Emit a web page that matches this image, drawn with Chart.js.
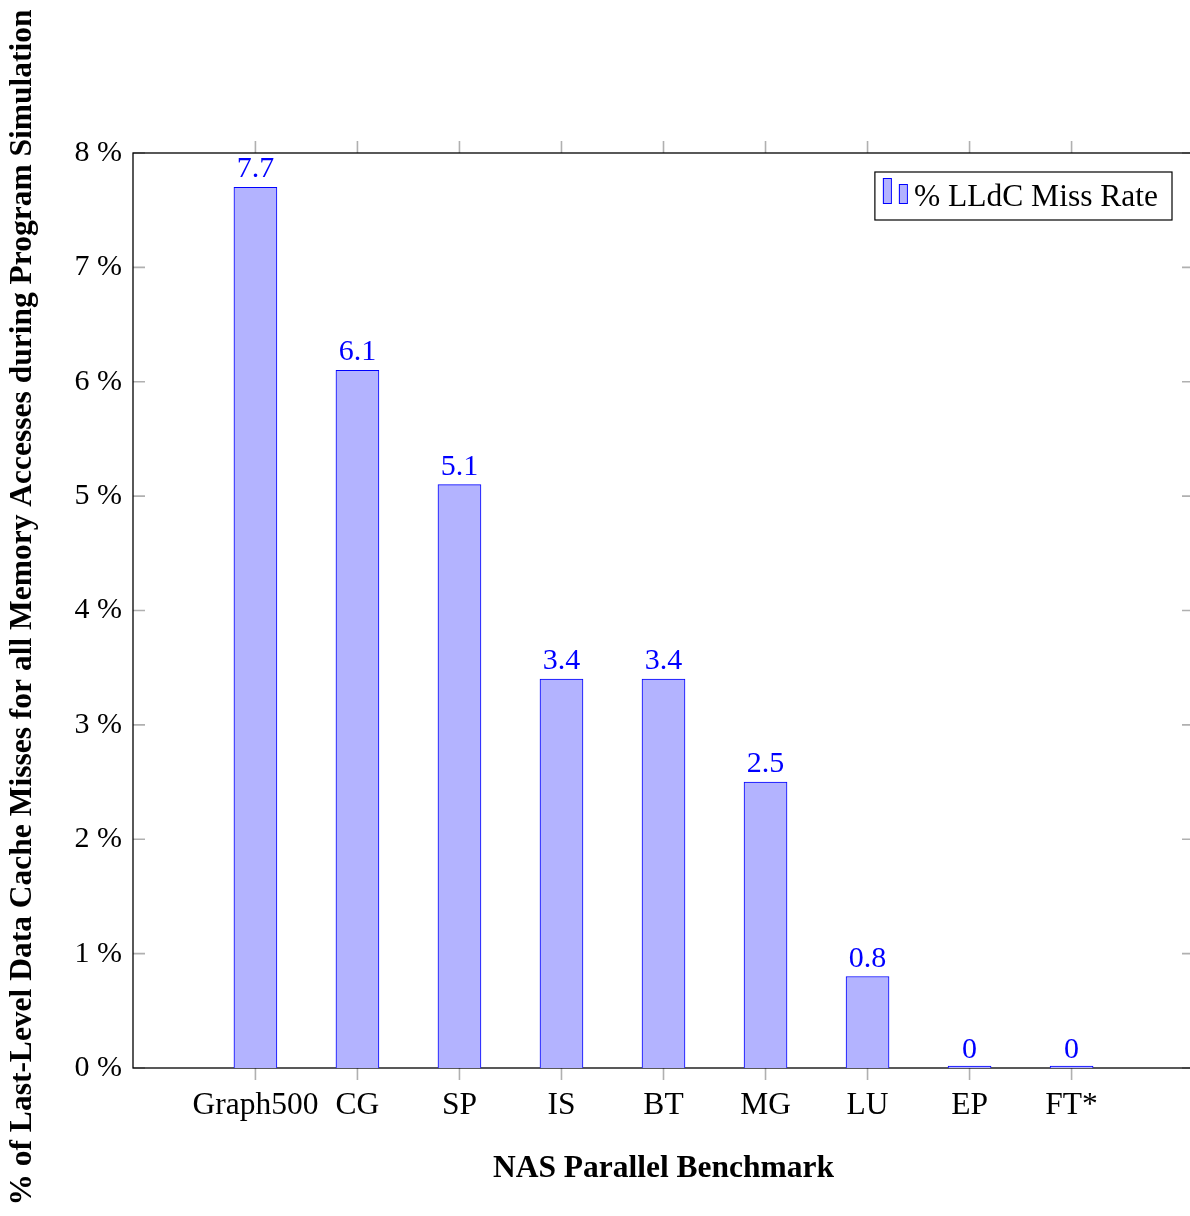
<!DOCTYPE html>
<html>
<head>
<meta charset="utf-8">
<script src="https://cdn.jsdelivr.net/npm/chart.js@4.4.0/dist/chart.umd.min.js"></script>
<style>
  html, body { margin: 0; padding: 0; background: #fff; overflow: hidden; }
  #wrap { width: 1200px; height: 1216px; }
</style>
</head>
<body>
<div id="wrap"><canvas id="missChart" width="1200" height="1216"></canvas></div>
<script>
// Benchmarks along the x axis
const benchmarks = ['Graph500', 'CG', 'SP', 'IS', 'BT', 'MG', 'LU', 'EP', 'FT*'];
// % LLdC miss rate for each benchmark
const missRates = [7.7, 6.1, 5.1, 3.4, 3.4, 2.5, 0.8, 0, 0];
// y axis ticks (percent)
const yTicks = [0, 1, 2, 3, 4, 5, 6, 7, 8];

const seriesLabel = '% LLdC Miss Rate';
const yTitle = '% of Last-Level Data Cache Misses for all Memory Accesses during Program Simulation';
const xTitle = 'NAS Parallel Benchmark';

const serif = '"Liberation Serif", "Times New Roman", serif';

/**
 * Axis frame plus the small gray tick marks (pgfplots look)
 */
const framePlugin = {
  id: 'frame',
  beforeDatasetsDraw(chart) {
    const { ctx, chartArea: a, scales: { x, y } } = chart;
    ctx.save();
    ctx.strokeStyle = '#b0b0b0';
    ctx.lineWidth = 1.6;
    ctx.beginPath();
    x.ticks.forEach(t => {
      const px = x.getPixelForValue(t.value);
      ctx.moveTo(px, a.bottom); ctx.lineTo(px, a.bottom + 12);
      ctx.moveTo(px, a.top); ctx.lineTo(px, a.top - 12);
    });
    y.ticks.forEach(t => {
      const py = y.getPixelForValue(t.value);
      ctx.moveTo(a.left, py); ctx.lineTo(a.left + 12, py);
      ctx.moveTo(a.right, py); ctx.lineTo(a.right - 12, py);
    });
    ctx.stroke();
    ctx.strokeStyle = '#000';
    ctx.lineWidth = 1.3;
    ctx.strokeRect(a.left, a.top, a.right - a.left, a.bottom - a.top);
    ctx.restore();
  }
};

/**
 * Value labels above each bar
 */
const valueLabels = {
  id: 'valueLabels',
  afterDatasetsDraw(chart) {
    const { ctx, scales: { y } } = chart;
    const meta = chart.getDatasetMeta(0);
    ctx.save();
    ctx.fillStyle = '#0000ff';
    ctx.font = '30px ' + serif;
    ctx.textAlign = 'center';
    ctx.textBaseline = 'alphabetic';
    meta.data.forEach((bar, i) => {
      ctx.fillText(String(missRates[i]), bar.x, y.getPixelForValue(missRates[i]) - 10);
    });
    ctx.restore();
  }
};

/**
 * Boxed legend in the upper right corner
 */
const legendBox = {
  id: 'legendBox',
  afterDraw(chart) {
    const { ctx, chartArea: a } = chart;
    const ds = chart.data.datasets[0];
    ctx.save();
    ctx.font = '31.5px ' + serif;
    const textW = ctx.measureText(ds.label).width;
    const w = 39 + textW + 14;
    const h = 48;
    const left = a.right - 22 - w;
    const top = a.top + 19;

    ctx.fillStyle = '#fff';
    ctx.fillRect(left, top, w, h);
    ctx.strokeStyle = '#000';
    ctx.lineWidth = 1.2;
    ctx.strokeRect(left, top, w, h);

    // two little bars as the legend image
    ctx.fillStyle = ds.backgroundColor;
    ctx.strokeStyle = ds.borderColor;
    ctx.lineWidth = 1;
    ctx.fillRect(left + 8, top + 6, 8, 25);
    ctx.strokeRect(left + 8.5, top + 6.5, 8, 25);
    ctx.fillRect(left + 24, top + 12, 8, 19);
    ctx.strokeRect(left + 24.5, top + 12.5, 8, 19);

    ctx.fillStyle = '#000';
    ctx.textAlign = 'left';
    ctx.textBaseline = 'alphabetic';
    ctx.fillText(ds.label, left + 39, top + 34);
    ctx.restore();
  }
};

/**
 * Rotated y axis title (too long for the axis' own title box)
 */
const yTitlePlugin = {
  id: 'yTitle',
  afterDraw(chart) {
    const { ctx, chartArea: a } = chart;
    ctx.save();
    ctx.translate(23, (a.top + a.bottom) / 2 - 3);
    ctx.rotate(-Math.PI / 2);
    ctx.font = 'bold 31.5px ' + serif;
    ctx.fillStyle = '#000';
    ctx.textAlign = 'center';
    ctx.textBaseline = 'middle';
    ctx.fillText(yTitle, 0, 0);
    ctx.restore();
  }
};

const canvas = document.getElementById('missChart');

new Chart(canvas, {
  type: 'bar',
  data: {
    datasets: [{
      label: seriesLabel,
      data: missRates.map((v, i) => ({ x: i, y: v })),
      backgroundColor: '#b3b3ff',
      borderColor: '#0000ff',
      borderWidth: 1,
      borderSkipped: 'start',
      barThickness: 43,
      minBarLength: 2
    }]
  },
  options: {
    responsive: false,
    animation: false,
    layout: { padding: { top: 153, right: 6, left: 0, bottom: 0 } },
    plugins: {
      legend: { display: false },
      tooltip: { enabled: false }
    },
    scales: {
      x: {
        type: 'linear',
        min: -1.2,
        max: 9.2,
        offset: false,
        afterBuildTicks: s => { s.ticks = benchmarks.map((b, i) => ({ value: i })); },
        afterFit: s => { s.height = 148; },
        grid: { display: false, drawTicks: false },
        border: { display: false },
        ticks: {
          callback: v => benchmarks[v],
          font: { family: serif, size: 31.5 },
          color: '#000',
          padding: 19,
          maxRotation: 0,
          autoSkip: false
        },
        title: {
          display: true,
          text: xTitle,
          font: { family: serif, size: 31.5, weight: 'bold' },
          color: '#000',
          padding: { top: 0, bottom: 28 }
        }
      },
      y: {
        min: 0,
        max: 8,
        afterBuildTicks: s => { s.ticks = yTicks.map(v => ({ value: v })); },
        afterFit: s => { s.width = 133; },
        grid: { display: false, drawTicks: false },
        border: { display: false },
        ticks: {
          callback: v => v + ' %',
          font: { family: serif, size: 30 },
          color: '#000',
          padding: 11
        }
      }
    }
  },
  plugins: [framePlugin, valueLabels, legendBox, yTitlePlugin]
});
</script>
</body>
</html>
